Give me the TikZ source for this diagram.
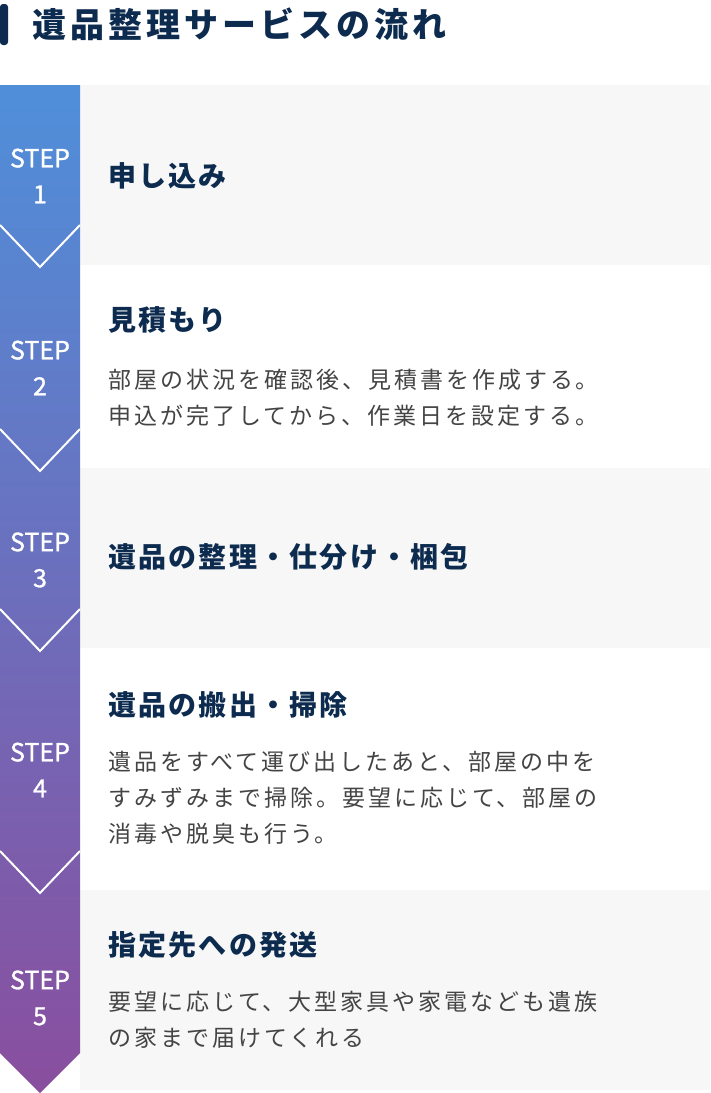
\documentclass[tikz,border=0pt]{standalone}
\usepackage{fontspec}
\setmainfont{Noto Sans CJK JP}
\newfontfamily\titlefam{Noto Sans CJK JP}[LetterSpace=12]
\newfontfamily\headfam{Noto Sans CJK JP}[LetterSpace=8]
\newfontfamily\bodyfam{Noto Sans CJK JP}[LetterSpace=13]
\newfontfamily\stepfam{Noto Sans CJK JP}[FakeBold=1.2]
\usetikzlibrary{positioning}
\definecolor{navy}{HTML}{0C2B4F}
\definecolor{bodygray}{HTML}{444444}
\definecolor{bggray}{HTML}{F7F7F7}
\definecolor{bandtop}{HTML}{4F8FDA}
\definecolor{bandbottom}{HTML}{8A4E9E}
\tikzset{
    chevron/.style={draw=white, line width=2pt},
    steplabel/.style={text=white, align=center, inner sep=0pt, font=\stepfam\fontsize{25}{36}\selectfont},
    headtext/.style={anchor=base west, inner sep=0pt, text=navy, font=\headfam\bfseries\fontsize{28}{30}\selectfont},
    bodytext/.style={anchor=north west, inner sep=0pt, text=bodygray, align=left, font=\bodyfam\fontsize{23}{36}\selectfont},
}
\begin{document}
\begin{tikzpicture}[x=1pt, y=-1pt]
    \useasboundingbox[fill=white] (0,0) rectangle (710,1093);
    % title
    \fill[navy, rounded corners=3pt] (0,4) rectangle (8,45);
    \node[anchor=base west, inner sep=0pt, text=navy, font=\titlefam\bfseries\fontsize{34}{40}\selectfont] (title) at (32,37) {遺品整理サービスの流れ};
    % row backgrounds
    \fill[bggray] (80,85) rectangle (710,265);
    \fill[bggray] (80,468) rectangle (710,648);
    \fill[bggray] (80,890) rectangle (710,1090);
    % left band
    \shade[top color=bandtop, bottom color=bandbottom] (0,85) -- (80,85) -- (80,1053) -- (40,1093) -- (0,1053) -- cycle;
    \foreach \y in {267,471,651,893}
        \draw[chevron] (0,\y-42) -- (40,\y) -- (80,\y-42);
    \foreach \n/\y in {1/176,2/368,3/560,4/770,5/998}
        \node[steplabel] (step\n) at (40,\y) {STEP\\\n};
    % headings
    \node[headtext] (head1) at (108,186) {申し込み};
    \node[headtext] (head2) at (108,330) {見積もり};
    \node[headtext] (head3) at (108,567) {遺品の整理・仕分け・梱包};
    \node[headtext] (head4) at (108,715) {遺品の搬出・掃除};
    \node[headtext] (head5) at (108,955) {指定先への発送};
    % texts
    \node[bodytext] (body2) at (108,369) {部屋の状況を確認後、見積書を作成する。\\申込が完了してから、作業日を設定する。};
    \node[bodytext] (body4) at (108,751) {遺品をすべて運び出したあと、部屋の中を\\すみずみまで掃除。要望に応じて、部屋の\\消毒や脱臭も行う。};
    \node[bodytext] (body5) at (108,991) {要望に応じて、大型家具や家電なども遺族\\の家まで届けてくれる};
\end{tikzpicture}
\end{document}
